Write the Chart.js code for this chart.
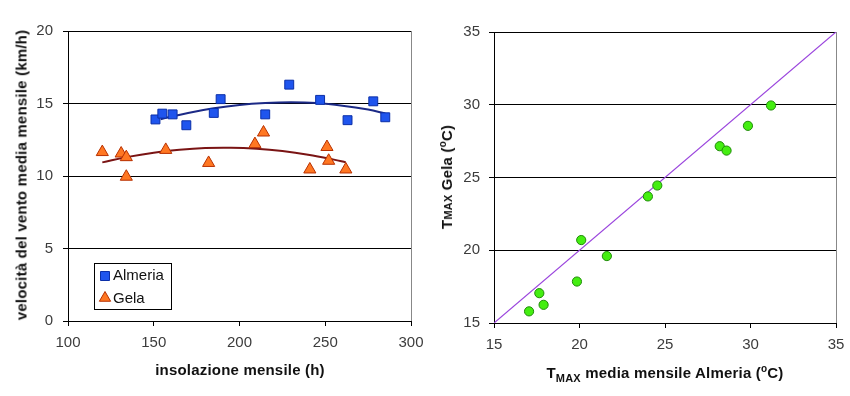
<!DOCTYPE html>
<html>
<head>
<meta charset="utf-8">
<script src="https://cdn.jsdelivr.net/npm/chart.js@4.4.1/dist/chart.umd.min.js"></script>
<style>
  body { margin: 0; background: #fff; }
  #wrap { position: relative; width: 850px; height: 396px; font-family: Arial, "Liberation Sans", sans-serif; }
  canvas { position: absolute; top: 0; }
  .tit { position: absolute; font-weight: bold; font-size: 15px; color: #111; white-space: nowrap; letter-spacing: 0.2px; }
  .rot { transform: translate(-50%, -50%) rotate(-90deg); }
  .hor { transform: translate(-50%, -50%); }
  .small { font-size: 11px; }
  sup { font-size: 10px; vertical-align: 6px; }
  sub { font-size: 11px; vertical-align: -4px; }
</style>
</head>
<body>
<div id="wrap">
  <canvas id="chartVento" width="425" height="396" style="left:0"></canvas>
  <canvas id="chartTmax" width="425" height="396" style="left:425px"></canvas>
  <div class="tit rot" style="left:21px; top:175px">velocità del vento media mensile (km/h)</div>
  <div class="tit hor" style="left:240px; top:369px">insolazione mensile (h)</div>
  <div class="tit rot" style="left:446px; top:177px">T<span class="small">MAX</span> Gela (<sup>o</sup>C)</div>
  <div class="tit hor" style="left:665px; top:373px">T<sub>MAX</sub> media mensile Almeria (<sup>o</sup>C)</div>
</div>

<script>
// left chart: wind speed vs monthly sunshine hours
const insolAlmeria = [151, 155, 161, 169, 185, 189, 215, 229, 247, 263, 278, 285]
const ventoAlmeria = [13.9, 14.3, 14.25, 13.5, 14.35, 15.3, 14.25, 16.3, 15.25, 13.85, 15.15, 14.05]
const insolGela = [120, 131, 134, 134, 157, 182, 209, 214, 241, 251, 252, 262]
const ventoGela = [11.65, 11.55, 11.3, 9.95, 11.8, 10.9, 12.2, 13.0, 10.45, 12.0, 11.05, 10.45]

// trend curves
const trendAlmeriaX = [154, 170, 185, 200, 215, 230, 245, 260, 275, 285]
const trendAlmeriaY = [13.92, 14.35, 14.67, 14.9, 15.03, 15.08, 15.03, 14.85, 14.58, 14.32]
const trendGelaX = [120, 135, 150, 165, 180, 195, 210, 225, 240, 255, 262]
const trendGelaY = [10.94, 11.32, 11.61, 11.81, 11.93, 11.95, 11.88, 11.72, 11.47, 11.13, 10.94]

// right chart: TMAX Almeria vs TMAX Gela
const tmaxAlmeria = [17.05, 17.65, 17.9, 19.85, 20.1, 21.6, 24.0, 24.55, 28.2, 28.6, 29.85, 31.2]
const tmaxGela = [15.8, 17.05, 16.25, 17.85, 20.7, 19.6, 23.7, 24.45, 27.15, 26.85, 28.55, 29.95]
const bisettrice = [15, 35]

const tickFont = { family: 'Arial, "Liberation Sans", sans-serif', size: 15 }
const tickColor = '#3c3c3c'

function toPoints(xs, ys) {
  return xs.map((x, i) => ({ x: x, y: ys[i] }))
}

// keep the plot area where the reference has it
function fixX(h) {
  return s => { s.height = h; s.paddingLeft = 0; s.paddingRight = 0 }
}
function fixY(w) {
  return s => { s.width = w; s.paddingTop = 0; s.paddingBottom = 0 }
}

// gray frame on the right side of the plot area, like Excel
const frame = {
  id: 'frame',
  beforeDatasetsDraw(chart) {
    const a = chart.chartArea
    const ctx = chart.ctx
    ctx.save()
    ctx.strokeStyle = '#888'
    ctx.lineWidth = 1
    ctx.beginPath()
    ctx.moveTo(Math.round(a.right) + 0.5, a.top)
    ctx.lineTo(Math.round(a.right) + 0.5, a.bottom)
    ctx.stroke()
    ctx.restore()
  }
}

// legend box inside the left plot
const legendBox = {
  id: 'legendBox',
  afterDraw(chart) {
    const ctx = chart.ctx
    const x = 94, y = 263, w = 77, h = 46
    const ds = chart.data.datasets
    ctx.save()
    ctx.fillStyle = '#fff'
    ctx.fillRect(x, y, w, h)
    ctx.strokeStyle = '#000'
    ctx.lineWidth = 1
    ctx.strokeRect(x + 0.5, y + 0.5, w, h)
    ctx.fillStyle = ds[0].backgroundColor
    ctx.strokeStyle = ds[0].borderColor
    ctx.beginPath()
    ctx.rect(100.5, 271.5, 9, 9)
    ctx.fill()
    ctx.stroke()
    ctx.fillStyle = ds[1].backgroundColor
    ctx.strokeStyle = ds[1].borderColor
    Chart.helpers.drawPoint(ctx, { pointStyle: 'triangle', radius: 6.5, borderWidth: 1 }, 105, 298)
    ctx.fillStyle = '#111'
    ctx.font = '15px Arial, "Liberation Sans", sans-serif'
    ctx.textBaseline = 'middle'
    ctx.fillText('Almeria', 113, 276)
    ctx.fillText('Gela', 113, 299)
    ctx.restore()
  }
}

new Chart('chartVento', {
  type: 'scatter',
  data: {
    datasets: [{
      label: 'Almeria',
      data: toPoints(insolAlmeria, ventoAlmeria),
      pointStyle: 'rect',
      pointRadius: 6.3,
      backgroundColor: '#1f55ee',
      borderColor: '#0b2fa8',
      borderWidth: 1
    }, {
      label: 'Gela',
      data: toPoints(insolGela, ventoGela),
      pointStyle: 'triangle',
      pointRadius: 7,
      backgroundColor: '#ff7722',
      borderColor: '#b83000',
      borderWidth: 1
    }, {
      label: 'trend Almeria',
      data: toPoints(trendAlmeriaX, trendAlmeriaY),
      showLine: true,
      pointRadius: 0,
      borderColor: '#1c2a86',
      borderWidth: 2,
      tension: 0.4
    }, {
      label: 'trend Gela',
      data: toPoints(trendGelaX, trendGelaY),
      showLine: true,
      pointRadius: 0,
      borderColor: '#7a1414',
      borderWidth: 2,
      tension: 0.4
    }]
  },
  options: {
    responsive: false,
    animation: false,
    layout: { padding: { left: 0, right: 14, top: 31, bottom: 0 } },
    plugins: { legend: { display: false }, tooltip: { enabled: false } },
    scales: {
      x: {
        min: 100, max: 300,
        afterFit: fixX(75),
        ticks: { stepSize: 50, color: tickColor, font: tickFont, padding: 8 },
        grid: { drawOnChartArea: false, color: '#000', tickLength: 5 },
        border: { color: '#000' }
      },
      y: {
        min: 0, max: 20,
        afterFit: fixY(68),
        ticks: { stepSize: 5, color: tickColor, font: tickFont, padding: 10 },
        grid: { color: '#000', tickLength: 5 },
        border: { color: '#000' }
      }
    }
  },
  plugins: [frame, legendBox]
})

new Chart('chartTmax', {
  type: 'scatter',
  data: {
    datasets: [{
      label: 'Tmax',
      data: toPoints(tmaxAlmeria, tmaxGela),
      pointStyle: 'circle',
      pointRadius: 4.6,
      backgroundColor: '#44ee11',
      borderColor: '#1f8a08',
      borderWidth: 1
    }, {
      label: 'y = x',
      data: toPoints(bisettrice, bisettrice),
      showLine: true,
      pointRadius: 0,
      borderColor: '#9a44dd',
      borderWidth: 1.2
    }]
  },
  options: {
    responsive: false,
    animation: false,
    layout: { padding: { left: 0, right: 14, top: 32, bottom: 0 } },
    plugins: { legend: { display: false }, tooltip: { enabled: false } },
    scales: {
      x: {
        min: 15, max: 35,
        afterFit: fixX(73),
        ticks: { stepSize: 5, color: tickColor, font: tickFont, padding: 8 },
        grid: { drawOnChartArea: false, color: '#000', tickLength: 5 },
        border: { color: '#000' }
      },
      y: {
        min: 15, max: 35,
        afterFit: fixY(69),
        ticks: { stepSize: 5, color: tickColor, font: tickFont, padding: 9 },
        grid: { color: '#000', tickLength: 5 },
        border: { color: '#000' }
      }
    }
  },
  plugins: [frame]
})
</script>
</body>
</html>
